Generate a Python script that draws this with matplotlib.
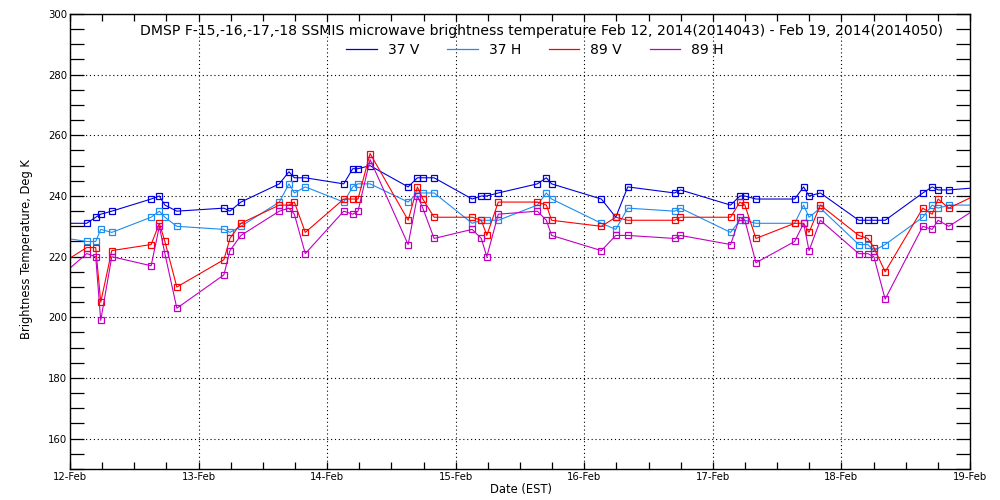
import matplotlib
matplotlib.use("Agg")
import matplotlib.pyplot as plt
from matplotlib.ticker import MultipleLocator, FixedLocator, FixedFormatter
from matplotlib.lines import Line2D

# Pass times, in days after 12-Feb-2014 00:00 EST
times = [-0.17,
         0.130, 0.200, 0.239, 0.325, 0.631, 0.695, 0.738, 0.831,
         1.197, 1.244, 1.329, 1.628, 1.703, 1.745, 1.830,
         2.129, 2.199, 2.240, 2.334, 2.630, 2.702, 2.744, 2.832,
         3.128, 3.199, 3.242, 3.331, 3.635, 3.705, 3.746,
         4.133, 4.245, 4.338, 4.702, 4.748,
         5.138, 5.210, 5.249, 5.335, 5.636, 5.706, 5.748, 5.836,
         6.135, 6.205, 6.252, 6.340, 6.633, 6.706, 6.752, 6.835,
         7.13]

tb_37v = [231,
          231, 233, 234, 235, 239, 240, 237, 235,
          236, 235, 238, 244, 248, 246, 246,
          244, 249, 249, 250, 243, 246, 246, 246,
          239, 240, 240, 241, 244, 246, 244,
          239, 233, 243, 241, 242,
          237, 240, 240, 239, 239, 243, 240, 241,
          232, 232, 232, 232, 241, 243, 242, 242,
          243]

tb_37h = [227,
          225, 225, 229, 228, 233, 235, 233, 230,
          229, 228, 230, 238, 244, 241, 243,
          238, 243, 244, 244, 238, 241, 241, 241,
          231, 232, 232, 232, 237, 241, 239,
          231, 229, 236, 235, 236,
          228, 232, 232, 231, 231, 237, 233, 236,
          224, 224, 222, 224, 233, 237, 236, 237,
          237]

tb_89v = [215,
          223, 223, 205, 222, 224, 231, 225, 210,
          219, 226, 231, 237, 237, 238, 228,
          239, 239, 239, 254, 232, 243, 239, 233,
          233, 232, 227, 238, 238, 237, 232,
          230, 233, 232, 232, 233,
          233, 238, 237, 226, 231, 231, 228, 237,
          227, 226, 223, 215, 236, 234, 239, 236,
          242]

tb_89h = [210,
          221, 220, 199, 220, 217, 230, 221, 203,
          214, 222, 227, 235, 236, 234, 221,
          235, 234, 235, 252, 224, 240, 236, 226,
          229, 226, 220, 234, 235, 232, 227,
          222, 227, 227, 226, 227,
          224, 233, 232, 218, 225, 231, 222, 232,
          221, 221, 220, 206, 230, 229, 232, 230,
          238]

series_names = ["37 V", "37 H", "89 V", "89 H"]
series_colors = ["#0000dd", "#1e8cf0", "#ff0000", "#c000c0"]

day_ticks = [0, 1, 2, 3, 4, 5, 6, 7]
day_labels = ["12-Feb", "13-Feb", "14-Feb", "15-Feb", "16-Feb", "17-Feb", "18-Feb", "19-Feb"]

title = ("DMSP F-15,-16,-17,-18 SSMIS microwave brightness temperature "
         "Feb 12, 2014(2014043) - Feb 19, 2014(2014050)")

plt.rcParams['font.family'] = ['DejaVu Sans']

fig = plt.figure(figsize=(10, 5), dpi=100)
ax = fig.add_axes([0.070, 0.062, 0.900, 0.910])

for vals, name, col in zip([tb_37v, tb_37h, tb_89v, tb_89h], series_names, series_colors):
    ax.plot(times, vals, color=col, lw=0.8, marker='s', markersize=5,
            markerfacecolor='none', markeredgecolor=col, markeredgewidth=0.9,
            clip_on=True, label=name)

ax.set_xlim(0, 7)
ax.set_ylim(150, 300)

ax.xaxis.set_major_locator(FixedLocator(day_ticks))
ax.xaxis.set_major_formatter(FixedFormatter(day_labels))
ax.xaxis.set_minor_locator(MultipleLocator(0.25))
ax.yaxis.set_major_locator(MultipleLocator(20))
ax.yaxis.set_minor_locator(MultipleLocator(5))

ax.tick_params(axis='both', which='both', direction='in', top=True, right=True,
               width=0.9, labelsize=7.3, colors='black')
ax.tick_params(axis='y', which='both', length=10, pad=2)
ax.tick_params(axis='x', which='both', length=5, pad=2)

ax.grid(True, which='major', color='black', linestyle=(0, (1, 2.5)), linewidth=0.8)
for s in ax.spines.values():
    s.set_linewidth(1.0)
    s.set_color('black')

fig.text(0.027, 0.502, "Brightness Temperature, Deg K", rotation=90,
         ha='center', va='center', fontsize=8.3)
fig.text(0.521, 0.020, "Date (EST)", ha='center', va='center', fontsize=8.3)

fig.text(0.541, 1 - 31 / 500, title, ha='center', va='center', fontsize=10.1)

handles = [Line2D([0], [0], color=c, lw=0.9) for c in series_colors]
fig.legend(handles, series_names, loc='center', bbox_to_anchor=(0.535, 0.9),
           ncol=4, frameon=False, fontsize=10, handlelength=2.2,
           handletextpad=0.8, columnspacing=2.0)

fig.savefig("out.png", dpi=100)
